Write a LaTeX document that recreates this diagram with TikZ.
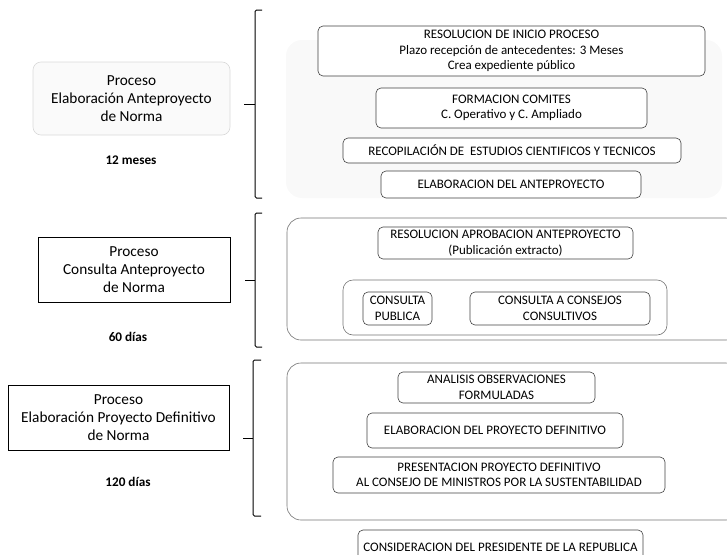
\documentclass[tikz,border=0pt]{standalone}
\usepackage{fontspec}
\setmainfont{Carlito}
\begin{document}
\begin{tikzpicture}[x=1pt,y=-1pt,
  rbox/.style={draw=black!75, line width=0.6pt, rounded corners=5pt, inner sep=0pt, align=center,
    font=\fontsize{13}{15.5}\selectfont},
  cont/.style={draw=black!55, line width=0.6pt, rounded corners=14pt},
  lbox/.style={draw=black, line width=1pt, inner sep=0pt, align=center,
    font=\fontsize{15.3}{18}\selectfont},
  dur/.style={font=\fontsize{13.2}{15}\selectfont\bfseries},
  brace/.style={line width=1pt, rounded corners=1.5pt}]
\useasboundingbox (0,0) rectangle (727,554);
% group 1 (faded)
\fill[gray!5, rounded corners=16pt] (286,40) rectangle (722,198);
\node[lbox, draw=gray!30, fill=gray!4, line width=0.6pt, rounded corners=8pt,
  minimum width=197, minimum height=73] (p1) at (131.5,98.5)
  {Proceso\\Elaboración Anteproyecto\\de Norma};
\node[dur] (d1) at (131,160) {12 meses};
\node[rbox, fill=white, minimum width=387, minimum height=50] (r1) at (511.5,51)
  {RESOLUCION DE INICIO PROCESO\\Plazo recepción de antecedentes: 3 Meses\\Crea expediente público};
\node[rbox, fill=white, minimum width=271, minimum height=40] (r2) at (511.5,108)
  {FORMACION COMITES\\C. Operativo y C. Ampliado};
\node[rbox, fill=white, minimum width=338, minimum height=25] (r3) at (512,150.5)
  {RECOPILACIÓN DE \ ESTUDIOS CIENTIFICOS Y TECNICOS};
\node[rbox, fill=white, minimum width=260, minimum height=27] (r4) at (511,184.5)
  {ELABORACION DEL ANTEPROYECTO};
\coordinate (b1t) at (262,10);
\coordinate (b1b) at (262,198);
\coordinate (b1m) at (244,104);
\draw[brace] (b1t) -- (255,10) -- (255,198) -- (b1b);
\draw[line width=1pt] (255,104) -- (b1m);
% group 2
\node[lbox, minimum width=192, minimum height=65] (p2) at (134,269.5)
  {Proceso\\Consulta Anteproyecto\\de Norma};
\node[dur] (d2) at (128,337) {60 días};
\draw[cont] (287,218) rectangle (740,340);
\node[rbox, minimum width=255, minimum height=32] (s1) at (505.5,243)
  {RESOLUCION APROBACION ANTEPROYECTO\\(Publicación extracto)};
\draw[cont, rounded corners=10pt] (343,280) rectangle (667,335);
\node[rbox, minimum width=69, minimum height=33] (s2) at (397.5,308.5)
  {CONSULTA\\PUBLICA};
\node[rbox, minimum width=180, minimum height=33] (s3) at (560,308.5)
  {CONSULTA A CONSEJOS\\CONSULTIVOS};
\coordinate (b2t) at (262,213);
\coordinate (b2b) at (262,347);
\coordinate (b2m) at (245,280);
\draw[brace] (b2t) -- (255,213) -- (255,347) -- (b2b);
\draw[line width=1pt] (255,280) -- (b2m);
% group 3
\node[lbox, minimum width=221, minimum height=65] (p3) at (118.5,417.5)
  {Proceso\\Elaboración Proyecto Definitivo\\de Norma};
\node[dur] (d3) at (128,482) {120 días};
\draw[cont] (287,363) rectangle (740,520);
\node[rbox, minimum width=197, minimum height=31] (t1) at (496.5,387.5)
  {ANALISIS OBSERVACIONES\\FORMULADAS};
\node[rbox, minimum width=256, minimum height=35] (t2) at (495,430.5)
  {ELABORACION DEL PROYECTO DEFINITIVO};
\node[rbox, minimum width=332, minimum height=36] (t3) at (499,475)
  {PRESENTACION PROYECTO DEFINITIVO\\AL CONSEJO DE MINISTROS POR LA SUSTENTABILIDAD};
\node[rbox, minimum width=285, minimum height=34] (t4) at (500.5,547)
  {CONSIDERACION DEL PRESIDENTE DE LA REPUBLICA};
\coordinate (b3t) at (261,360);
\coordinate (b3b) at (261,516);
\coordinate (b3m) at (243,438);
\draw[brace] (b3t) -- (253,360) -- (253,516) -- (b3b);
\draw[line width=1pt] (253,438) -- (b3m);
\end{tikzpicture}
\end{document}
